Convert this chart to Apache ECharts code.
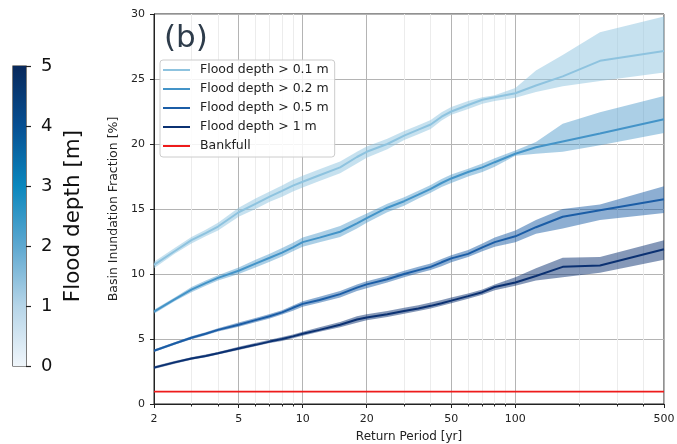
<!DOCTYPE html>
<html>
<head>
<meta charset="utf-8">
<script src="https://cdn.jsdelivr.net/npm/echarts@6/dist/echarts.min.js"></script>
<style>
  html, body { margin: 0; padding: 0; background: #ffffff; }
  #chart { width: 677px; height: 444px; }
</style>
</head>
<body>
<div id="chart"></div>
<script>
// Return periods (years) at which inundation fractions were evaluated
const returnPeriods = [2, 2.5, 3, 3.5, 4, 5, 6, 7, 8, 9, 10, 12, 15, 18, 20, 25, 30, 35, 40, 45, 50, 60, 70, 80, 100, 125, 167, 250, 500];

// Basin inundation fraction [%] for depth > 0.1 m (central estimate and range)
const depth01Mean = [10.7, 11.75, 12.6, 13.15, 13.65, 14.75, 15.4, 15.95, 16.4, 16.8, 17.1, 17.6, 18.2, 19.0, 19.4, 20.0, 20.65, 21.1, 21.5, 22.1, 22.5, 23.0, 23.4, 23.6, 23.9, 24.5, 25.2, 26.4, 27.15];
const depth01Low  = [10.45, 11.55, 12.35, 12.9, 13.35, 14.4, 15.0, 15.55, 15.95, 16.35, 16.65, 17.15, 17.75, 18.5, 18.95, 19.6, 20.3, 20.75, 21.15, 21.8, 22.25, 22.7, 23.1, 23.3, 23.55, 24.0, 24.45, 24.85, 25.5];
const depth01High = [10.95, 12.0, 12.85, 13.4, 13.95, 15.1, 15.8, 16.35, 16.8, 17.25, 17.55, 18.05, 18.65, 19.4, 19.8, 20.4, 21.0, 21.45, 21.85, 22.45, 22.85, 23.3, 23.6, 23.75, 24.3, 25.65, 26.85, 28.6, 29.8];

// depth > 0.2 m
const depth02Mean = [7.1, 8.05, 8.8, 9.3, 9.7, 10.25, 10.8, 11.25, 11.65, 12.05, 12.45, 12.8, 13.25, 13.9, 14.3, 15.1, 15.6, 16.1, 16.55, 17.0, 17.35, 17.85, 18.2, 18.6, 19.25, 19.75, 20.2, 20.8, 21.9];
const depth02Low  = [6.95, 7.9, 8.6, 9.1, 9.5, 10.0, 10.5, 10.95, 11.35, 11.75, 12.1, 12.45, 12.85, 13.5, 13.95, 14.75, 15.25, 15.8, 16.25, 16.7, 17.0, 17.5, 17.85, 18.25, 19.1, 19.25, 19.4, 19.9, 20.85];
const depth02High = [7.25, 8.2, 9.0, 9.5, 9.9, 10.5, 11.1, 11.55, 12.0, 12.4, 12.8, 13.2, 13.7, 14.3, 14.65, 15.4, 15.9, 16.4, 16.85, 17.3, 17.65, 18.1, 18.5, 18.9, 19.5, 20.15, 21.55, 22.45, 23.7];

// depth > 0.5 m
const depth05Mean = [4.1, 4.65, 5.1, 5.4, 5.7, 6.1, 6.45, 6.75, 7.05, 7.4, 7.7, 8.0, 8.45, 8.95, 9.2, 9.6, 10.0, 10.3, 10.55, 10.9, 11.2, 11.55, 12.05, 12.45, 12.9, 13.6, 14.4, 14.9, 15.75];
const depth05Low  = [4.0, 4.55, 4.98, 5.28, 5.58, 5.95, 6.28, 6.58, 6.88, 7.18, 7.48, 7.78, 8.2, 8.7, 8.9, 9.35, 9.75, 10.05, 10.3, 10.6, 10.9, 11.3, 11.75, 12.1, 12.45, 13.1, 13.5, 14.15, 14.7];
const depth05High = [4.2, 4.75, 5.22, 5.52, 5.82, 6.27, 6.62, 6.92, 7.22, 7.58, 7.9, 8.25, 8.7, 9.2, 9.45, 9.85, 10.25, 10.55, 10.8, 11.15, 11.45, 11.85, 12.35, 12.8, 13.35, 14.15, 15.0, 15.35, 16.75];

// depth > 1 m
const depth1Mean = [2.8, 3.2, 3.5, 3.7, 3.9, 4.27, 4.55, 4.8, 5.0, 5.2, 5.4, 5.7, 6.1, 6.5, 6.65, 6.9, 7.15, 7.35, 7.55, 7.75, 7.95, 8.3, 8.6, 9.0, 9.35, 9.85, 10.55, 10.65, 11.9];
const depth1Low  = [2.7, 3.1, 3.4, 3.6, 3.8, 4.15, 4.45, 4.7, 4.85, 5.05, 5.25, 5.55, 5.9, 6.25, 6.45, 6.7, 6.95, 7.15, 7.35, 7.55, 7.75, 8.1, 8.4, 8.75, 9.1, 9.5, 9.75, 10.1, 11.1];
const depth1High = [2.9, 3.3, 3.6, 3.8, 4.0, 4.4, 4.7, 4.95, 5.15, 5.35, 5.55, 5.9, 6.3, 6.75, 6.9, 7.15, 7.4, 7.6, 7.8, 8.0, 8.2, 8.5, 8.8, 9.2, 9.75, 10.45, 11.25, 11.3, 12.6];

// Bankfull inundation fraction [%]
const bankfullLevel = [0.95];

const seriesNames = ['Flood depth > 0.1 m', 'Flood depth > 0.2 m', 'Flood depth > 0.5 m', 'Flood depth > 1 m', 'Bankfull'];
const majorTicks = [2, 5, 10, 20, 50, 100, 500];
const minorTicks = [3, 4, 6, 7, 8, 9, 30, 40, 60, 70, 80, 90, 200, 300, 400];
const colorbarTicks = [0, 1, 2, 3, 4, 5];

const FONT = 'DejaVu Sans';
const lineColors = ['#8ec3df', '#4494c8', '#1b5da6', '#0b3172'];
const bandColors = ['rgba(142,195,223,0.5)', 'rgba(68,148,200,0.45)', 'rgba(27,93,166,0.5)', 'rgba(11,49,114,0.5)'];
// Legend swatch: a short horizontal stroke
const legendStroke = 'path://M0,0 L27,0 L27,2 L0,2 Z';

const groups = [
  [depth01Mean, depth01Low, depth01High],
  [depth02Mean, depth02Low, depth02High],
  [depth05Mean, depth05Low, depth05High],
  [depth1Mean, depth1Low, depth1High]
];

function pairs(xs, ys) { return xs.map((x, i) => [x, ys[i]]); }

// Shaded range between a low and a high curve, drawn as one polygon through the axis scales
function bandSeries(low, high, fill) {
  return {
    type: 'custom',
    xAxisIndex: 0,
    yAxisIndex: 0,
    silent: true,
    clip: true,
    z: 2,
    data: returnPeriods.map((x, i) => [x, low[i], high[i]]),
    encode: { x: 0, y: [1, 2] },
    renderItem: function (params, api) {
      if (params.dataIndex !== 0) return null;
      const pts = [];
      for (let i = 0; i < returnPeriods.length; i++) pts.push(api.coord([returnPeriods[i], low[i]]));
      for (let i = returnPeriods.length - 1; i >= 0; i--) pts.push(api.coord([returnPeriods[i], high[i]]));
      return { type: 'polygon', shape: { points: pts }, style: { fill: fill } };
    }
  };
}

const series = [];
groups.forEach((g, k) => series.push(bandSeries(g[1], g[2], bandColors[k])));
groups.forEach((g, k) => series.push({
  name: seriesNames[k],
  type: 'line',
  xAxisIndex: 0,
  yAxisIndex: 0,
  data: pairs(returnPeriods, g[0]),
  symbol: 'none',
  lineStyle: { width: 2, color: lineColors[k] },
  itemStyle: { color: lineColors[k] },
  z: 3,
  animation: false
}));
series.push({
  name: seriesNames[4],
  type: 'line',
  xAxisIndex: 0,
  yAxisIndex: 0,
  data: [[returnPeriods[0], bankfullLevel[0]], [returnPeriods[returnPeriods.length - 1], bankfullLevel[0]]],
  symbol: 'none',
  lineStyle: { width: 1.8, color: '#ee1b1b' },
  itemStyle: { color: '#ee1b1b' },
  z: 3,
  animation: false
});

// Colour bar: a single full-height bar with a vertical gradient
series.push({
  type: 'bar',
  xAxisIndex: 2,
  yAxisIndex: 1,
  data: [colorbarTicks[colorbarTicks.length - 1]],
  barWidth: '100%',
  silent: true,
  itemStyle: {
    color: {
      type: 'linear', x: 0, y: 0, x2: 0, y2: 1,
      colorStops: [
        { offset: 0, color: '#08295c' },
        { offset: 0.2, color: '#064f92' },
        { offset: 0.4, color: '#0a87bd' },
        { offset: 0.6, color: '#5ea8d0' },
        { offset: 0.8, color: '#b6d5e8' },
        { offset: 1, color: '#f0f6fb' }
      ]
    }
  },
  animation: false
});

const chart = echarts.init(document.getElementById('chart'), null, { renderer: 'canvas' });
chart.setOption({
  backgroundColor: '#ffffff',
  animation: false,
  textStyle: { fontFamily: FONT },
  title: {
    text: '(b)',
    left: 164,
    top: 23,
    padding: 0,
    textStyle: { fontSize: 31, fontWeight: 'normal', color: '#2e3c4b', fontFamily: FONT }
  },
  legend: {
    data: seriesNames.map(n => ({ name: n, icon: legendStroke })),
    orient: 'vertical',
    left: 160,
    top: 60,
    padding: [3, 6, 4, 3],
    itemWidth: 27,
    itemHeight: 14,
    itemGap: 5,
    symbolKeepAspect: true,
    backgroundColor: 'rgba(255,255,255,0.85)',
    borderColor: '#cccccc',
    borderWidth: 1,
    borderRadius: 3,
    textStyle: { fontSize: 12.5, color: '#222222', fontFamily: FONT, lineHeight: 14, padding: [0, 0, 0, 5] }
  },
  grid: [
    { left: 154, right: 13, top: 14, bottom: 40, outerBoundsMode: 'none', containLabel: false, show: true, borderColor: '#222222', borderWidth: 1, backgroundColor: 'transparent' },
    { left: 13, top: 66, width: 13, height: 300, outerBoundsMode: 'none', containLabel: false, show: true, borderColor: '#222222', borderWidth: 1.2 }
  ],
  xAxis: [
    {
      type: 'log', logBase: 10, gridIndex: 0, min: 2, max: 500,
      name: 'Return Period [yr]', nameLocation: 'middle', nameGap: 27,
      nameTextStyle: { fontSize: 12, color: '#222222', fontFamily: FONT },
      axisLine: { show: true, lineStyle: { color: '#222222', width: 1 } },
      axisTick: { show: true, length: 4, customValues: majorTicks, lineStyle: { color: '#222222' } },
      axisLabel: { show: true, fontSize: 11, color: '#222222', margin: 10, customValues: majorTicks, formatter: v => String(v) },
      splitLine: { show: true, lineStyle: { color: '#b4b4b4', width: 1 } },
      minorTick: { show: false },
      minorSplitLine: { show: false }
    },
    {
      type: 'log', logBase: 10, gridIndex: 0, min: 2, max: 500, position: 'bottom',
      axisLine: { show: false },
      axisTick: { show: true, length: 2.5, customValues: minorTicks, lineStyle: { color: '#222222' } },
      axisLabel: { show: false, customValues: minorTicks },
      splitLine: { show: true, lineStyle: { color: '#ececec', width: 1 } }
    },
    {
      type: 'category', gridIndex: 1, data: [''],
      axisLine: { show: false }, axisTick: { show: false }, axisLabel: { show: false }, splitLine: { show: false }
    }
  ],
  yAxis: [
    {
      type: 'value', gridIndex: 0, min: 0, max: 30, interval: 5,
      name: 'Basin Inundation Fraction [%]', nameLocation: 'middle', nameGap: 31,
      nameTextStyle: { fontSize: 12.5, color: '#222222', fontFamily: FONT },
      axisLine: { show: true, lineStyle: { color: '#222222', width: 1 } },
      axisTick: { show: true, length: 4, lineStyle: { color: '#222222' } },
      axisLabel: { fontSize: 11, color: '#222222', margin: 9 },
      splitLine: { show: true, lineStyle: { color: '#b4b4b4', width: 1 } }
    },
    {
      type: 'value', gridIndex: 1, min: 0, max: 5, interval: 1, position: 'right',
      name: 'Flood depth [m]', nameLocation: 'middle', nameGap: 36, nameRotate: 90,
      nameTextStyle: { fontSize: 21.5, color: '#111111', fontFamily: FONT },
      axisLine: { show: false },
      axisTick: { show: true, length: 5, lineStyle: { color: '#222222', width: 1.2 } },
      axisLabel: { fontSize: 18, color: '#111111', margin: 15 },
      splitLine: { show: false }
    }
  ],
  series: series
});
</script>
</body>
</html>
